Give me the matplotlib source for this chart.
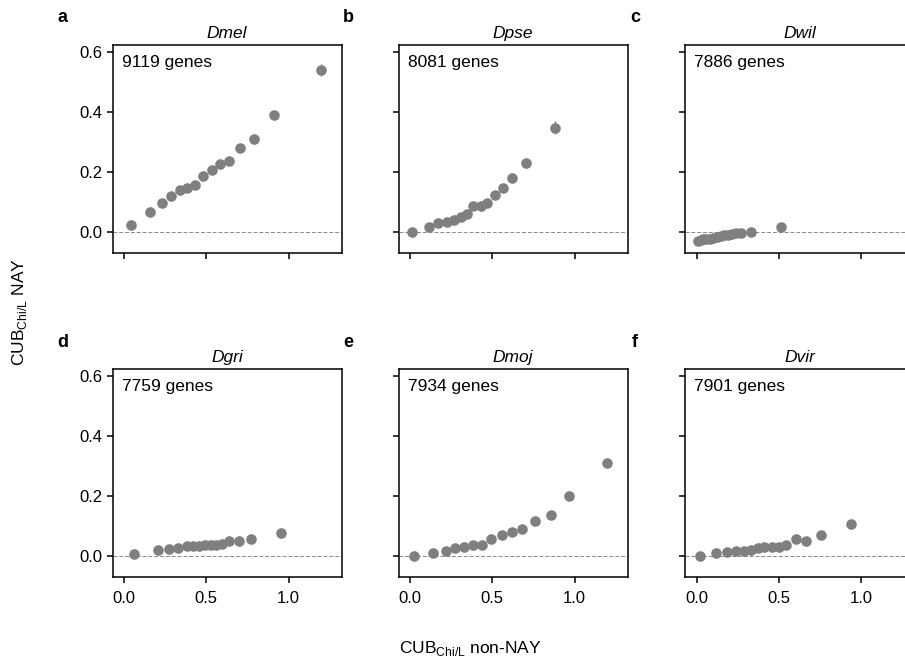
import matplotlib
matplotlib.use("Agg")
import matplotlib.pyplot as plt
import numpy as np

plt.rcParams['font.family'] = ['Liberation Sans', 'DejaVu Sans']
plt.rcParams['mathtext.fontset'] = 'custom'
plt.rcParams['mathtext.rm'] = 'Liberation Sans'

species = ["Dmel", "Dpse", "Dwil", "Dgri", "Dmoj", "Dvir"]
letters = ["a", "b", "c", "d", "e", "f"]
gene_counts = [9119, 8081, 7886, 7759, 7934, 7901]

dmel_x = [0.040, 0.157, 0.228, 0.286, 0.339, 0.385, 0.433, 0.482, 0.532, 0.585, 0.637, 0.706, 0.788, 0.909, 1.196]
dmel_y = [0.024, 0.067, 0.098, 0.121, 0.141, 0.148, 0.156, 0.189, 0.207, 0.228, 0.237, 0.281, 0.312, 0.391, 0.542]
dmel_e = [0.003, 0.003, 0.003, 0.003, 0.003, 0.003, 0.003, 0.003, 0.003, 0.003, 0.003, 0.004, 0.004, 0.006, 0.020]

dpse_x = [0.014, 0.117, 0.173, 0.224, 0.270, 0.308, 0.349, 0.385, 0.429, 0.470, 0.516, 0.565, 0.621, 0.706, 0.883]
dpse_y = [0.001, 0.019, 0.030, 0.033, 0.042, 0.051, 0.062, 0.086, 0.087, 0.099, 0.123, 0.146, 0.182, 0.230, 0.349]
dpse_e = [0.003, 0.003, 0.003, 0.003, 0.003, 0.003, 0.003, 0.003, 0.003, 0.003, 0.004, 0.004, 0.005, 0.006, 0.021]

dwil_x = [0.006, 0.025, 0.040, 0.060, 0.080, 0.101, 0.125, 0.150, 0.170, 0.192, 0.215, 0.242, 0.272, 0.333, 0.514]
dwil_y = [-0.028, -0.025, -0.023, -0.022, -0.021, -0.020, -0.016, -0.012, -0.010, -0.008, -0.006, -0.003, -0.001, 0.000, 0.017]
dwil_e = [0.002] * 14 + [0.004]

dgri_x = [0.0625, 0.206, 0.272, 0.329, 0.383, 0.419, 0.454, 0.490, 0.526, 0.560, 0.597, 0.639, 0.698, 0.772, 0.952]
dgri_y = [0.007, 0.020, 0.024, 0.028, 0.034, 0.033, 0.034, 0.036, 0.039, 0.039, 0.040, 0.050, 0.051, 0.057, 0.078]
dgri_e = [0.002] * 14 + [0.004]

dmoj_x = [0.026, 0.141, 0.218, 0.276, 0.331, 0.385, 0.440, 0.494, 0.558, 0.617, 0.681, 0.762, 0.855, 0.966, 1.200]
dmoj_y = [0.000, 0.012, 0.018, 0.026, 0.032, 0.039, 0.038, 0.057, 0.071, 0.080, 0.092, 0.118, 0.136, 0.200, 0.312]
dmoj_e = [0.002] * 13 + [0.005, 0.016]

dvir_x = [0.024, 0.121, 0.185, 0.238, 0.286, 0.333, 0.373, 0.409, 0.456, 0.500, 0.546, 0.603, 0.665, 0.754, 0.942]
dvir_y = [0.001, 0.010, 0.014, 0.017, 0.018, 0.020, 0.027, 0.030, 0.032, 0.032, 0.039, 0.056, 0.050, 0.071, 0.108]
dvir_e = [0.002] * 14 + [0.004]

xs = [dmel_x, dpse_x, dwil_x, dgri_x, dmoj_x, dvir_x]
ys = [dmel_y, dpse_y, dwil_y, dgri_y, dmoj_y, dvir_y]
es = [dmel_e, dpse_e, dwil_e, dgri_e, dmoj_e, dvir_e]

fig = plt.figure(figsize=(9.05, 6.6), dpi=100)

lefts = [112.5 / 905, 398.5 / 905, 685 / 905]
width = 229 / 905
bottoms = [1 - 252.7 / 660, 1 - 576.7 / 660]
height = (252.7 - 45) / 660

gray = '#7f7f7f'
for i in range(6):
    r, c = divmod(i, 3)
    ax = fig.add_axes([lefts[c], bottoms[r], width, height])
    ax.axhline(0, color='#888888', lw=0.7, ls=(0, (4, 2)), zorder=1)
    ax.errorbar(xs[i], ys[i], yerr=es[i], fmt='o', color=gray, ms=6.6,
                elinewidth=1.0, capsize=0, zorder=3)
    ax.set_xlim(-0.07, 1.322)
    ax.set_ylim(-0.068, 0.624)
    ax.set_xticks([0.0, 0.5, 1.0])
    ax.set_yticks([0.0, 0.2, 0.4, 0.6])
    ax.tick_params(direction='out', length=4, width=1.1, labelsize=12)
    ax.tick_params(axis='x', pad=6)
    for s in ax.spines.values():
        s.set_linewidth(1.1)
    if c != 0:
        ax.set_yticklabels([])
    else:
        ax.set_yticklabels(['0.0', '0.2', '0.4', '0.6'])
    if r == 0:
        ax.set_xticklabels([])
    else:
        ax.set_xticklabels(['0.0', '0.5', '1.0'])
    ax.set_title(species[i], fontstyle='italic', fontsize=12.5, pad=5)
    ax.text(0.04, 0.915, f"{gene_counts[i]} genes", transform=ax.transAxes,
            fontsize=12.5, ha='left', va='center')
    fig.text(lefts[c] - 50 / 905, bottoms[r] + height + 27 / 660, letters[i],
             fontsize=13, fontweight='bold', ha='center', va='center')

fig.text(20 / 905, 1 - 312 / 660, r'CUB$_{\mathregular{Chi/L}}$ NAY', rotation=90,
         ha='center', va='center', fontsize=12.5)
fig.text(470 / 905, 1 - 648 / 660, r'CUB$_{\mathregular{Chi/L}}$ non-NAY',
         ha='center', va='center', fontsize=12.5)

fig.savefig('out.png', dpi=100)
